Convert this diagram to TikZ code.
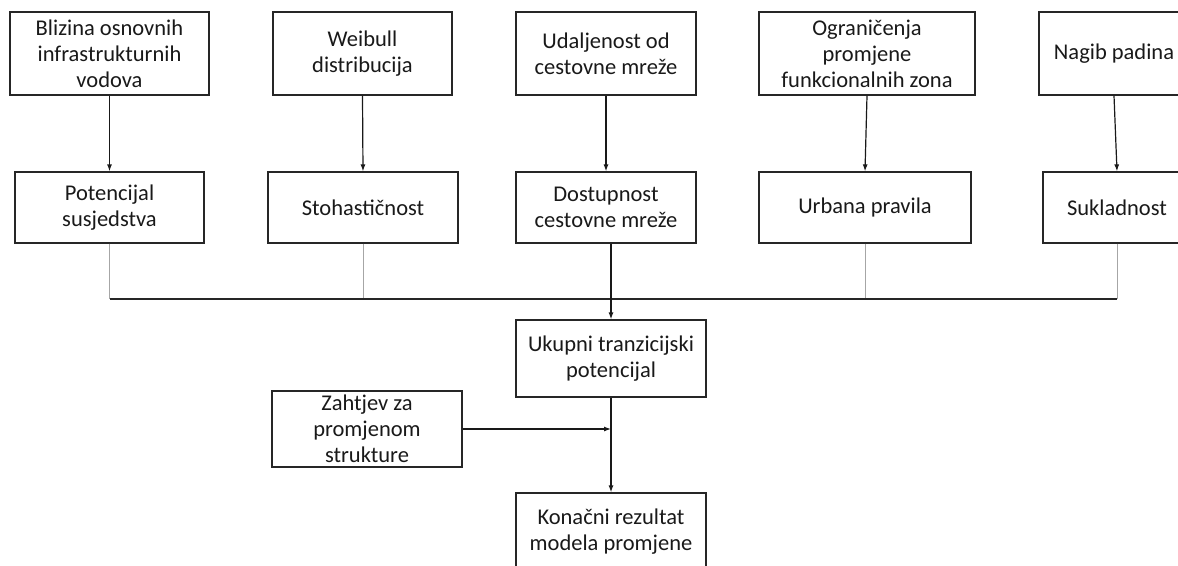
\documentclass[tikz,border=0pt]{standalone}
\usepackage{fontspec}
\setmainfont{Carlito}
\usepackage{tikz}
\usetikzlibrary{arrows.meta,calc}

\begin{document}
\begin{tikzpicture}[x=1pt, y=-1pt,
    box/.style={draw=black!85, line width=1.2pt, align=center, inner sep=0pt,
      font=\fontsize{22.5}{26}\selectfont, text=black!90},
    arr/.style={draw=black!90, line width=1.2pt, -{Latex[length=7pt,width=5pt]}},
    feed/.style={draw=black!35, line width=1pt}]
    \clip (0,0) rectangle (1178,565);
    \node[box, minimum width=199, minimum height=83] (blizina) at (109.5,53.5) {Blizina osnovnih\\infrastrukturnih\\vodova};
    \node[box, minimum width=179, minimum height=83] (weibull) at (362.5,53.5) {Weibull\\distribucija};
    \node[box, minimum width=180, minimum height=83] (udalj) at (606,53.5) {Udaljenost od\\cestovne mre\v{z}e};
    \node[box, minimum width=216, minimum height=83] (ogran) at (867,53.5) {Ograni\v{c}enja\\promjene\\funkcionalnih zona};
    \node[box, minimum width=150, minimum height=83] (nagib) at (1114,53.5) {Nagib padina};
    \node[box, minimum width=189, minimum height=71] (potenc) at (109.5,207.5) {Potencijal\\susjedstva};
    \node[box, minimum width=190, minimum height=71] (stoh) at (363,207.5) {Stohasti\v{c}nost};
    \node[box, minimum width=180, minimum height=71] (dostup) at (606,207.5) {Dostupnost\\cestovne mre\v{z}e};
    \node[box, minimum width=212, minimum height=71] (urbana) at (865,207.5) {Urbana pravila};
    \node[box, minimum width=148, minimum height=71] (sukl) at (1117,207.5) {Sukladnost};
    \node[box, minimum width=190, minimum height=77] (ukupni) at (611,358.5) {Ukupni tranzicijski\\potencijal};
    \node[box, minimum width=190, minimum height=76] (zahtjev) at (367,429) {Zahtjev za\\promjenom\\strukture};
    \node[box, minimum width=190, minimum height=78] (konacni) at (611,532) {Kona\v{c}ni rezultat\\modela promjene};
    \coordinate (bus) at (0,299);
    \coordinate (join) at (ukupni.south |- zahtjev.east);
    \draw[arr] (blizina.south) -- (potenc.north);
    \draw[arr] (weibull.south) -- (stoh.north);
    \draw[arr] (udalj.south) -- (dostup.north);
    \draw[arr] (ogran.south) -- (urbana.north);
    \draw[arr] (nagib.south) -- (sukl.north);
    \foreach \n in {potenc,stoh,urbana,sukl}
      \draw[feed] (\n.south) -- (\n.south |- bus);
    \draw[black!85, line width=1.2pt] (potenc.south |- bus) -- (sukl.south |- bus);
    \draw[arr] (ukupni.north |- dostup.south) -- (ukupni.north);
    \draw[arr] (zahtjev.east) -- (join);
    \draw[arr] (ukupni.south) -- (konacni.north);
\end{tikzpicture}
\end{document}
